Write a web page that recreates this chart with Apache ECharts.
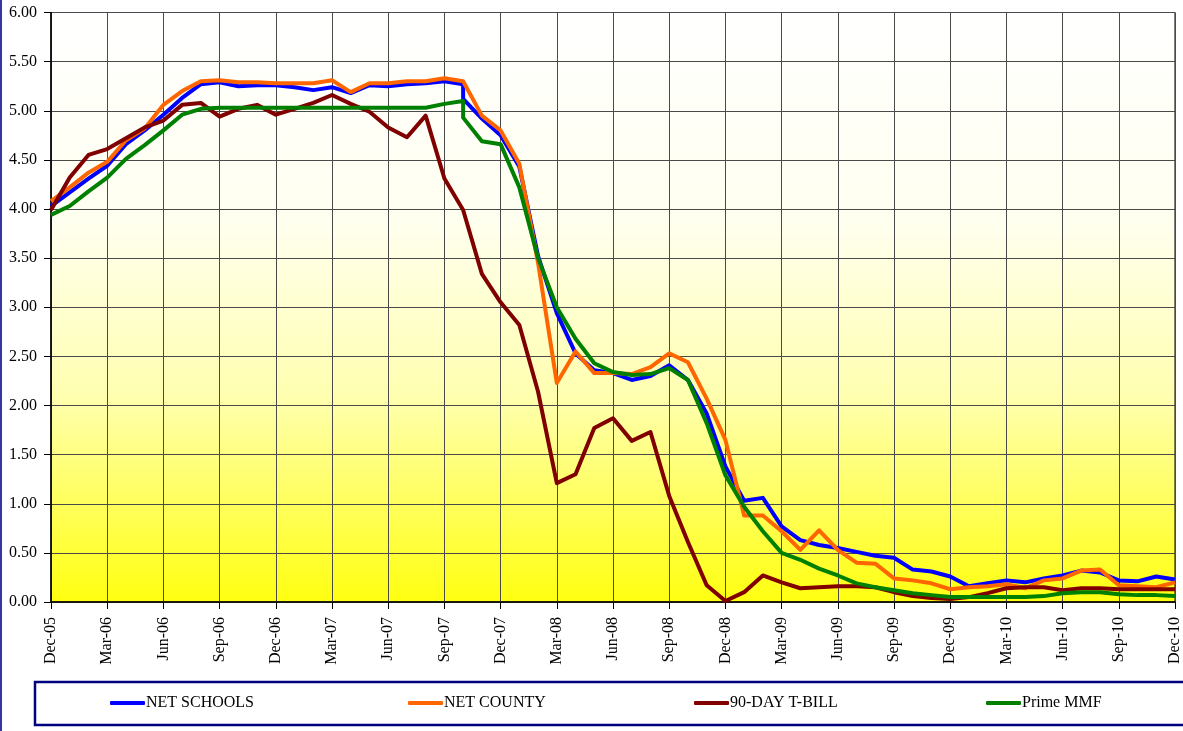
<!DOCTYPE html>
<html>
<head>
<meta charset="utf-8">
<script src="https://cdn.jsdelivr.net/npm/echarts@6/dist/echarts.min.js"></script>
<style>
    html, body { margin: 0; padding: 0; background: #fff; }
    #chart { width: 1183px; height: 731px; }
</style>
</head>
<body>
<div id="chart"></div>
<script>
    // month labels Dec-05 .. Dec-10
    var monthNames = ['Jan', 'Feb', 'Mar', 'Apr', 'May', 'Jun', 'Jul', 'Aug', 'Sep', 'Oct', 'Nov', 'Dec'];
    var months = ['Dec-05'];
    for (var y = 6; y <= 10; y++) {
        for (var m = 0; m < 12; m++) {
            months.push(monthNames[m] + '-' + (y < 10 ? '0' + y : y));
        }
    }

    var yTicks = [0, 0.5, 1, 1.5, 2, 2.5, 3, 3.5, 4, 4.5, 5, 5.5, 6];

    var netSchools = [4.03, 4.17, 4.31, 4.44, 4.66, 4.80, 4.96, 5.13, 5.27, 5.29,
        5.25, 5.26, 5.26, 5.24, 5.21, 5.24, 5.18, 5.26, 5.25, 5.27,
        5.28, 5.30, 5.12, 4.92, 4.75, 4.43, 3.52, 2.94, 2.53, 2.36,
        2.33, 2.26, 2.30, 2.41, 2.26, 1.92, 1.38, 1.03, 1.06, 0.77,
        0.63, 0.58, 0.55, 0.51, 0.47, 0.45, 0.33, 0.31, 0.26, 0.16,
        0.19, 0.22, 0.20, 0.24, 0.27, 0.32, 0.30, 0.22, 0.21, 0.26, 0.23];
    var netSchoolsOct07First = 5.27;   // Oct-07 has two readings

    var netCounty = [4.08, 4.22, 4.37, 4.48, 4.70, 4.82, 5.06, 5.20, 5.30, 5.31,
        5.29, 5.29, 5.28, 5.28, 5.28, 5.31, 5.19, 5.28, 5.28, 5.30,
        5.30, 5.33, 5.30, 4.95, 4.80, 4.46, 3.45, 2.23, 2.55, 2.33,
        2.33, 2.32, 2.39, 2.53, 2.44, 2.07, 1.65, 0.88, 0.88, 0.72,
        0.53, 0.73, 0.53, 0.40, 0.39, 0.24, 0.22, 0.19, 0.13, 0.15,
        0.16, 0.18, 0.14, 0.22, 0.24, 0.32, 0.33, 0.17, 0.16, 0.15, 0.20];

    var tBill = [3.99, 4.32, 4.55, 4.61, 4.72, 4.83, 4.90, 5.06, 5.08, 4.94,
        5.02, 5.06, 4.96, 5.02, 5.08, 5.16, 5.07, 4.99, 4.83, 4.73,
        4.95, 4.31, 3.99, 3.34, 3.05, 2.82, 2.14, 1.21, 1.30, 1.77,
        1.87, 1.64, 1.73, 1.08, 0.61, 0.17, 0.01, 0.10, 0.27, 0.20,
        0.14, 0.15, 0.16, 0.16, 0.15, 0.10, 0.06, 0.04, 0.03, 0.05,
        0.09, 0.14, 0.15, 0.15, 0.12, 0.14, 0.14, 0.13, 0.13, 0.13, 0.13];

    var primeMMF = [3.94, 4.03, 4.18, 4.32, 4.51, 4.65, 4.80, 4.96, 5.02, 5.03,
        5.03, 5.03, 5.03, 5.03, 5.03, 5.03, 5.03, 5.03, 5.03, 5.03,
        5.03, 5.07, 4.93, 4.69, 4.66, 4.22, 3.50, 3.00, 2.68, 2.43,
        2.34, 2.31, 2.32, 2.38, 2.26, 1.82, 1.29, 0.97, 0.72, 0.50,
        0.43, 0.34, 0.27, 0.19, 0.15, 0.12, 0.09, 0.07, 0.05, 0.05,
        0.05, 0.05, 0.05, 0.06, 0.09, 0.10, 0.10, 0.08, 0.07, 0.07, 0.06];
    var primeMMFOct07First = 5.10;

    var OCT07 = 22;

    // [index, value] pairs, optionally with a second reading on Oct-07
    function toPairs(arr, oct07First) {
        var out = [];
        for (var i = 0; i < arr.length; i++) {
            if (i === OCT07 && oct07First != null) {
                out.push([i, oct07First]);
            }
            out.push([i, arr[i]]);
        }
        return out;
    }

    var serif = '"Liberation Serif", "DejaVu Serif", serif';

    function lineSeries(name, color, data) {
        return {
            name: name,
            type: 'line',
            symbol: 'none',
            lineStyle: { color: color, width: 4, join: 'round' },
            itemStyle: { color: color },
            data: data
        };
    }

    function legendAt(name, left) {
        return {
            data: [name],
            left: left,
            top: 695,
            padding: 0,
            icon: 'roundRect',
            itemWidth: 35,
            itemHeight: 4,
            itemGap: 0,
            textStyle: { fontFamily: serif, fontSize: 16, color: '#000', padding: [0, 0, 0, -4] }
        };
    }

    var chart = echarts.init(document.getElementById('chart'));

    var option = {
        animation: false,
        backgroundColor: '#fff',
        graphic: [
            {
                type: 'rect',
                shape: { x: 1, y: -10, width: 1300, height: 1000 },
                style: { fill: 'none', stroke: '#3535a0', lineWidth: 2 },
                silent: true
            },
            {
                type: 'rect',
                shape: { x: 35, y: 682, width: 1300, height: 43 },
                style: { fill: 'none', stroke: '#00007f', lineWidth: 2.5 },
                silent: true
            }
        ],
        grid: {
            left: 51,
            right: 6,
            top: 12.5,
            bottom: 129,
            show: true,
            borderColor: '#000',
            borderWidth: 1,
            backgroundColor: new echarts.graphic.LinearGradient(0, 0, 0, 1, [
                { offset: 0, color: '#ffffff' },
                { offset: 0.35, color: '#fffff0' },
                { offset: 0.65, color: '#ffffb0' },
                { offset: 1, color: '#ffff10' }
            ])
        },
        legend: [
            legendAt('NET SCHOOLS', 110),
            legendAt('NET COUNTY', 408),
            legendAt('90-DAY T-BILL', 694),
            legendAt('Prime MMF', 986)
        ],
        xAxis: {
            type: 'category',
            data: months,
            boundaryGap: false,
            axisLine: { lineStyle: { color: '#000', width: 1.5 } },
            axisTick: { show: true, interval: 2, length: 7, lineStyle: { color: '#000' } },
            axisLabel: {
                interval: 2,
                rotate: 90,
                margin: 15,
                fontFamily: serif,
                fontSize: 16,
                color: '#000'
            },
            splitLine: { show: true, interval: 2, lineStyle: { color: '#4a4a4a', width: 1 } }
        },
        yAxis: {
            type: 'value',
            min: yTicks[0],
            max: yTicks[yTicks.length - 1],
            interval: 0.5,
            axisLine: { show: true, lineStyle: { color: '#000', width: 1.5 } },
            axisTick: { show: true, length: 7, lineStyle: { color: '#000' } },
            axisLabel: {
                margin: 14,
                fontFamily: serif,
                fontSize: 16,
                color: '#000',
                formatter: function (v) { return v.toFixed(2); }
            },
            splitLine: { show: true, lineStyle: { color: '#4a4a4a', width: 1 } }
        },
        series: [
            lineSeries('NET SCHOOLS', '#0000ff', toPairs(netSchools, netSchoolsOct07First)),
            lineSeries('NET COUNTY', '#ff6600', toPairs(netCounty)),
            lineSeries('90-DAY T-BILL', '#800000', toPairs(tBill)),
            lineSeries('Prime MMF', '#008000', toPairs(primeMMF, primeMMFOct07First))
        ]
    };

    chart.setOption(option);
</script>
</body>
</html>
